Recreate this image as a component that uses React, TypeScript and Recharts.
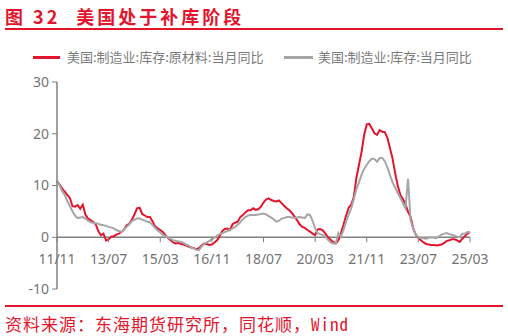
import { LineChart, Line, XAxis, YAxis, ReferenceLine } from 'recharts'

// 美国:制造业:库存:原材料:当月同比 (%), monthly from 2011/11
const rawMaterials = [
  10.8, 10.2, 9.4, 8.8, 8.2, 7.6, 6.0, 5.9, 6.2, 5.5,
  6.3, 4.4, 3.6, 3.3, 3.0, 2.5, 1.2, 0.4, 0.7, -0.6,
  -0.4, 0.1, 0.2, 0.5, 0.7, 1.0, 1.5, 2.3, 2.6, 3.4,
  4.4, 5.6, 5.7, 4.5, 4.2, 3.9, 3.9, 3.1, 2.1, 1.7,
  1.4, 1.0, 0.4, -0.1, -0.6, -1.0, -1.2, -1.1, -1.3, -1.4,
  -1.6, -1.8, -2.0, -2.1, -2.3, -2.1, -1.6, -1.2, -1.3, -1.5,
  -1.4, -1.0, -0.6, 0.2, 1.2, 1.6, 1.7, 1.4, 2.5, 2.8,
  3.0, 3.9, 4.3, 4.8, 5.2, 5.2, 5.6, 5.3, 5.4, 5.9,
  6.7, 7.3, 7.5, 7.2, 7.0, 6.9, 7.1, 6.6, 6.1, 5.6,
  5.2, 4.7, 4.0, 3.3, 2.5, 2.0, 1.8, 1.4, 1.1, 0.7,
  0.4, 1.5, 1.6, 1.3, 0.7, 0.0, -0.5, -0.9, -1.2, -0.6,
  0.8, 2.4, 4.2, 5.7, 6.3, 7.8, 11.5, 14.0, 16.5, 19.8,
  21.8, 21.9, 21.0, 20.1, 19.8, 20.7, 20.4, 20.3, 19.2, 17.2,
  15.2, 12.4, 10.0, 8.2, 7.4, 6.4, 4.9, 3.9, 1.7, 0.5,
  -0.1, -0.6, -1.0, -1.3, -1.4, -1.5, -1.5, -1.6, -1.5, -1.4,
  -1.1, -0.7, -0.6, -0.4, -0.4, -0.6, -0.9, -0.3, 0.2, 0.7,
  1.0,
]

// 美国:制造业:库存:当月同比 (%)
const totalInventory = [
  11.0, 10.0, 8.9, 8.2, 7.0, 6.0, 5.0, 4.2, 3.7, 3.8,
  3.9, 3.6, 3.2, 2.9, 2.8, 2.7, 2.6, 2.4, 2.3, 2.2,
  2.0, 1.9, 1.7, 1.4, 1.2, 1.0, 1.5, 2.0, 2.5, 3.1,
  3.4, 3.6, 3.6, 3.4, 3.2, 3.0, 2.9, 2.4, 1.8, 1.3,
  0.9, 0.4, 0.2, 0.0, -0.3, -0.6, -0.7, -0.8, -0.9, -1.1,
  -1.4, -1.6, -2.0, -2.2, -2.4, -2.5, -1.8, -1.3, -1.0, -0.7,
  -0.4, -0.1, 0.3, 0.6, 0.8, 1.0, 1.2, 1.4, 1.7, 2.0,
  2.4, 2.9, 3.5, 3.9, 4.2, 4.3, 4.3, 4.3, 4.4, 4.5,
  4.6, 4.4, 4.1, 3.8, 3.4, 3.0, 3.2, 3.6, 3.7, 3.9,
  3.9, 3.8, 3.7, 3.8, 3.9, 3.8, 3.7, 4.4, 4.3, 3.2,
  1.7, 0.8, 0.6, 0.4, 0.1, -0.5, -1.0, -1.2, -1.2, 0.8,
  0.1, 1.4, 3.0, 4.4, 5.6, 7.4, 9.3, 10.6, 12.1, 13.2,
  14.0, 14.7, 15.2, 15.1, 14.6, 15.3, 15.3, 14.7, 13.5, 12.0,
  10.6, 9.6, 8.6, 7.6, 6.6, 5.6, 11.3, 3.2, 1.6, 0.5,
  0.0, -0.2, -0.2, -0.3, -0.1, 0.0, -0.1, -0.2, 0.2, 0.5,
  0.7, 0.8, 0.6, 0.5, 0.3, 0.1, 0.0, 0.7, 0.7, 1.0,
  1.0,
]

const xTicks = ['11/11', '13/07', '15/03', '16/11', '18/07', '20/03', '21/11', '23/07', '25/03']
const yTicks = [-10, 0, 10, 20, 30]

const START_YEAR = 2011
const START_MONTH = 11

const RED = '#E3152D'
const GREY_LINE = '#A6A6A6'
const AXIS = '#808080'
const LABEL = '#737373'
const FONT = '"Noto Sans", "Noto Sans CJK SC", sans-serif'

const W = 508
const H = 336
const TOP = 82
const PLOT_BOTTOM = 289
const PLOT_H = PLOT_BOTTOM - TOP
const Y_MIN = -10
const Y_MAX = 30
const ZERO_Y = TOP + (PLOT_H * Y_MAX) / (Y_MAX - Y_MIN)

const monthLabel = (i: number) => {
  const t = START_MONTH - 1 + i
  const y = START_YEAR + Math.floor(t / 12)
  const m = (t % 12) + 1
  return `${String(y % 100).padStart(2, '0')}/${String(m).padStart(2, '0')}`
}

const data = rawMaterials.map((v, i) => ({
  date: monthLabel(i),
  raw: v,
  total: totalInventory[i],
}))

// x tick labels sit under the zero line, not at the bottom of the plot
const XTick = ({ x, payload }: any) => (
  <g>
    <line x1={x} x2={x} y1={ZERO_Y} y2={ZERO_Y + 5} stroke={AXIS} strokeWidth={1} />
    <text x={x} y={ZERO_Y + 27} textAnchor="middle" fill={LABEL} fontSize={14} fontFamily={FONT}>
      {payload.value}
    </text>
  </g>
)

export default function App() {
  return (
    <div style={{ position: 'absolute', left: 0, top: 0, width: W, height: H, background: '#fff', fontFamily: FONT }}>
      <div style={{ position: 'absolute', left: 5, top: 3, color: RED, fontSize: 18, fontWeight: 700, letterSpacing: 3, fontFamily: '"Noto Sans CJK SC", sans-serif', whiteSpace: 'nowrap' }}>
        图 32<span style={{ display: 'inline-block', width: 16 }} />美国处于补库阶段
      </div>
      <div style={{ position: 'absolute', left: 5, top: 28, width: 498, height: 2, background: RED }} />

      {/* legend */}
      <div style={{ position: 'absolute', left: 33, top: 56, width: 27, height: 2.5, background: RED }} />
      <div style={{ position: 'absolute', left: 67, top: 47, fontSize: 13, color: '#7a7a7a', whiteSpace: 'nowrap', fontFamily: '"Noto Sans CJK SC", sans-serif' }}>
        美国:制造业:库存:原材料:当月同比
      </div>
      <div style={{ position: 'absolute', left: 284, top: 56, width: 29, height: 2.5, background: GREY_LINE }} />
      <div style={{ position: 'absolute', left: 318, top: 47, fontSize: 13, color: '#7a7a7a', whiteSpace: 'nowrap', fontFamily: '"Noto Sans CJK SC", sans-serif' }}>
        美国:制造业:库存:当月同比
      </div>

      <div style={{ position: 'absolute', left: 0, top: 0 }}>
        <LineChart width={W} height={H} data={data} margin={{ top: TOP, right: 38, bottom: 0, left: 12 }}>
          <XAxis
            dataKey="date"
            ticks={xTicks}
            interval={0}
            height={H - PLOT_BOTTOM}
            axisLine={false}
            tickLine={false}
            tickSize={0}
            tick={<XTick />}
          />
          <YAxis
            width={45}
            domain={[Y_MIN, Y_MAX]}
            ticks={yTicks}
            interval={0}
            axisLine={{ stroke: AXIS, strokeWidth: 1.5 }}
            tickLine={{ stroke: AXIS, strokeWidth: 1 }}
            tickSize={5}
            tickMargin={3}
            tick={{ fill: LABEL, fontSize: 14, fontFamily: FONT }}
          />
          <ReferenceLine y={0} stroke={AXIS} strokeWidth={1.5} />
          <Line
            dataKey="raw"
            stroke={RED}
            strokeWidth={2}
            dot={false}
            type="linear"
            isAnimationActive={false}
          />
          <Line
            dataKey="total"
            stroke={GREY_LINE}
            strokeWidth={2}
            dot={false}
            type="linear"
            isAnimationActive={false}
          />
        </LineChart>
      </div>

      <div style={{ position: 'absolute', left: 5, top: 305, width: 498, height: 2, background: RED }} />
      <div style={{ position: 'absolute', left: 5, top: 311, color: RED, fontSize: 17, letterSpacing: 1, whiteSpace: 'nowrap', fontFamily: '"Noto Sans Mono CJK SC", "Noto Sans CJK SC", monospace' }}>
        资料来源：东海期货研究所，同花顺，Wind
      </div>
    </div>
  )
}
